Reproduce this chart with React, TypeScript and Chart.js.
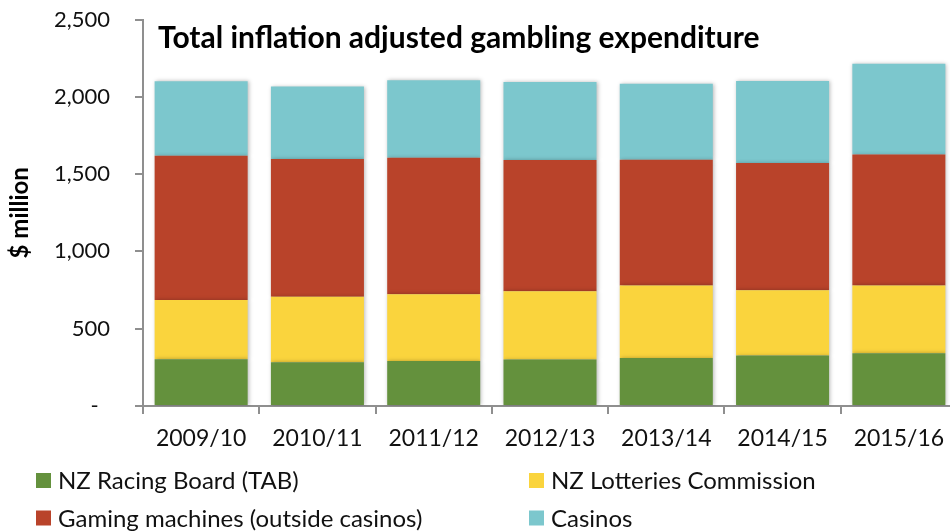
import { useEffect, useRef } from 'react';
import { Chart, registerables } from 'chart.js';

Chart.register(...registerables);

const categories = ['2009/10', '2010/11', '2011/12', '2012/13', '2013/14', '2014/15', '2015/16'];
const racing = [302, 283, 291, 300, 311, 326, 341];
const lotteries = [383, 423, 432, 443, 469, 423, 439];
const gaming = [934, 892, 883, 848, 813, 823, 846];
const casinos = [482, 468, 501, 505, 492, 531, 587];
const seriesNames = [
  'NZ Racing Board (TAB)',
  'NZ Lotteries Commission',
  'Gaming machines (outside casinos)',
  'Casinos',
];
const seriesColors = ['#64913D', '#FAD43D', '#B9432A', '#7CC7CD'];
const chartTitle = 'Total inflation adjusted gambling expenditure';
const yTitle = '$ million';

const FONT = 'Lato, "Open Sans", sans-serif';
const TEXT = '#111111';
const AXIS = '#8f8f8f';

const fmt = (v: number) =>
  v === 0 ? '-  ' : String(v).replace(/\B(?=(\d{3})+(?!\d))/g, ',');

const titlePlugin = {
  id: 'insideTitle',
  afterDraw(chart: any) {
    const { ctx, chartArea } = chart;
    ctx.save();
    ctx.font = `bold 30px ${FONT}`;
    ctx.fillStyle = '#000';
    ctx.textAlign = 'left';
    ctx.textBaseline = 'alphabetic';
    ctx.fillText(chartTitle, chartArea.left + 15, 48);
    ctx.restore();
  },
};

const legendPlugin = {
  id: 'gridLegend',
  afterDraw(chart: any) {
    const { ctx } = chart;
    const colX = [36, 529];
    const rowY = [480.5, 518];
    ctx.save();
    ctx.font = `24px ${FONT}`;
    ctx.textAlign = 'left';
    ctx.textBaseline = 'middle';
    chart.data.datasets.forEach((ds: any, i: number) => {
      const x = colX[i % 2];
      const y = rowY[Math.floor(i / 2)];
      ctx.fillStyle = ds.backgroundColor;
      ctx.fillRect(x, y - 7.5, 15, 15);
      ctx.fillStyle = TEXT;
      ctx.fillText(ds.label, x + 22, y + 1);
    });
    ctx.restore();
  },
};

const shadowPlugin = {
  id: 'barShadow',
  beforeDatasetsDraw(chart: any) {
    const { ctx } = chart;
    ctx.save();
    ctx.shadowColor = 'rgba(0,0,0,0.28)';
    ctx.shadowBlur = 4;
    ctx.shadowOffsetX = 1;
    ctx.shadowOffsetY = 0;
  },
  afterDatasetsDraw(chart: any) {
    chart.ctx.restore();
  },
};

export default function App() {
  const ref = useRef<HTMLCanvasElement>(null);
  useEffect(() => {
    const values = [racing, lotteries, gaming, casinos];
    const chart = new Chart(ref.current!, {
      type: 'bar',
      data: {
        labels: categories,
        datasets: values.map((d, i) => ({
          label: seriesNames[i],
          data: d,
          backgroundColor: seriesColors[i],
          borderWidth: 0,
          barPercentage: 0.8,
          categoryPercentage: 1,
        })),
      },
      options: {
        responsive: false,
        animation: false,
        devicePixelRatio: 1,
        layout: { padding: { top: 19.5, left: 0, right: 0, bottom: 0 } },
        plugins: {
          legend: { display: false },
          title: { display: false },
          tooltip: { enabled: false },
        },
        scales: {
          x: {
            stacked: true,
            grid: {
              display: true,
              drawOnChartArea: false,
              drawTicks: true,
              tickLength: 8,
              color: AXIS,
              lineWidth: 2,
              offset: true,
            },
            border: { display: true, color: AXIS, width: 2 },
            ticks: { font: { family: FONT, size: 23 }, color: TEXT, padding: 11 },
            afterFit: (s: any) => {
              s.height = 126;
            },
          },
          y: {
            stacked: true,
            min: 0,
            max: 2500,
            grid: {
              display: true,
              drawOnChartArea: false,
              drawTicks: true,
              tickLength: 8,
              color: AXIS,
              lineWidth: 2,
            },
            border: { display: true, color: AXIS, width: 2 },
            ticks: {
              stepSize: 500,
              font: { family: FONT, size: 22 },
              color: TEXT,
              padding: 25,
              callback: (v: any) => fmt(Number(v)),
            },
            title: {
              display: true,
              text: yTitle,
              font: { family: FONT, size: 24, weight: 'bold' },
              color: '#000',
              padding: { top: 6, bottom: 0 },
            },
            afterFit: (s: any) => {
              s.width = 143;
              s.paddingTop = 0;
              s.paddingBottom = 0;
            },
          },
        },
      },
      plugins: [shadowPlugin, titlePlugin, legendPlugin],
    });
    return () => chart.destroy();
  }, []);
  return (
    <div
      style={{
        position: 'fixed',
        left: 0,
        top: 0,
        width: 950,
        height: 532,
        overflow: 'hidden',
        background: '#fff',
      }}
    >
      <canvas ref={ref} width={957} height={532} style={{ display: 'block' }} />
    </div>
  );
}
